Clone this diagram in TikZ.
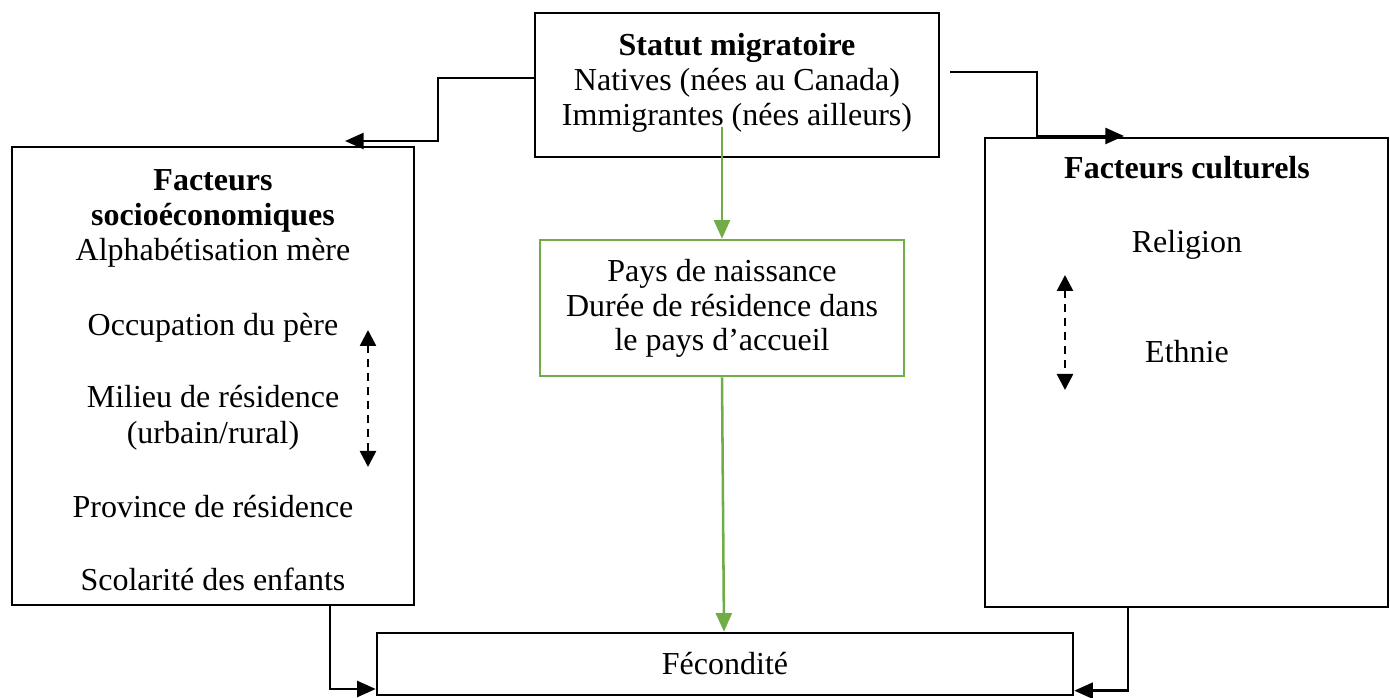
\documentclass[tikz,border=0pt]{standalone}
\usepackage{fontspec}
\setmainfont{Liberation Serif}
\usetikzlibrary{arrows.meta}
\definecolor{ogreen}{RGB}{112,173,71}
\begin{document}
\begin{tikzpicture}[x=0.75pt,y=-0.75pt,
  box/.style={draw, line width=1.9pt, inner sep=0pt},
  gbox/.style={draw=ogreen, line width=1.9pt, inner sep=0pt},
  txt/.style={inner sep=0pt, text height=0.7em, text depth=0.2em, font=\fontsize{24}{28}\selectfont},
  btxt/.style={txt, font=\fontsize{24}{28}\selectfont\bfseries},
  conn/.style={line width=1.9pt, -{Triangle[length=14pt,width=12pt]}},
  gconn/.style={draw=ogreen, line width=1.9pt, -{Triangle[length=14pt,width=12pt]}},
  dconn/.style={line width=1.9pt, dash pattern=on 5.5pt off 5pt, {Triangle[length=12pt,width=12pt]}-{Triangle[length=12pt,width=12pt]}}]
\useasboundingbox (0,0) rectangle (1390,698);

% boxes
\node[box, minimum width=303pt, minimum height=108pt] (top) at (737,85) {};
\node[box, minimum width=301.5pt, minimum height=343.5pt] (left) at (213,376) {};
\node[box, minimum width=302.25pt, minimum height=351.75pt] (right) at (1186.5,372.5) {};
\node[gbox, minimum width=273pt, minimum height=102pt] (green) at (722,308) {};
\node[box, minimum width=522pt, minimum height=46.5pt] (fec) at (725,664) {};

% texts top box
\node[btxt] (t1) at (737,52) {Statut migratoire};
\node[txt] (t2) at (737,87) {Natives (nées au Canada)};
\node[txt] (t3) at (737,122) {Immigrantes (nées ailleurs)};

% left box
\node[btxt] (l1) at (213,187) {Facteurs};
\node[btxt] (l2) at (213,222) {socioéconomiques};
\node[txt] (l3) at (213,257) {Alphabétisation mère};
\node[txt] (l4) at (213,332) {Occupation du père};
\node[txt] (l5) at (213,404) {Milieu de résidence};
\node[txt] (l6) at (213,440) {(urbain/rural)};
\node[txt] (l7) at (213,514) {Province de résidence};
\node[txt] (l8) at (213,587) {Scolarité des enfants};

% right box
\node[btxt] (r1) at (1187,175) {Facteurs culturels};
\node[txt] (r2) at (1187,249) {Religion};
\node[txt] (r3) at (1187,359) {Ethnie};

% green box
\node[txt] (g1) at (722,278) {Pays de naissance};
\node[txt] (g2) at (722,313) {Durée de résidence dans};
\node[txt] (g3) at (722,347) {le pays d’accueil};

% fecondite
\node[txt] (f1) at (725,671) {Fécondité};

% connectors
\coordinate (lt) at (345,141);
\coordinate (rs) at (950,72);
\coordinate (rt) at (1124,136);
\coordinate (gs) at (722,127);
\coordinate (da) at (368,330);
\coordinate (db) at (368,467);
\coordinate (dc) at (1065,275);
\coordinate (dd) at (1065,390);

\draw[conn] ([yshift=5.25pt]top.west) -| (438,141) -- (lt);
\draw[conn] (rs) -| (1037,136) -- (rt);
\draw[gconn] (gs) -- (green.north);
\draw[gconn] (green.south) -- ([xshift=-0.75pt]fec.north);
\draw[conn] ([xshift=87.75pt]left.south) |- ([yshift=-18.75pt]fec.west);
\draw[conn] ([xshift=-43.9pt]right.south) |- ([yshift=-20pt]fec.east);
\draw[dconn] (da) -- (db);
\draw[dconn] (dc) -- (dd);
\end{tikzpicture}
\end{document}
